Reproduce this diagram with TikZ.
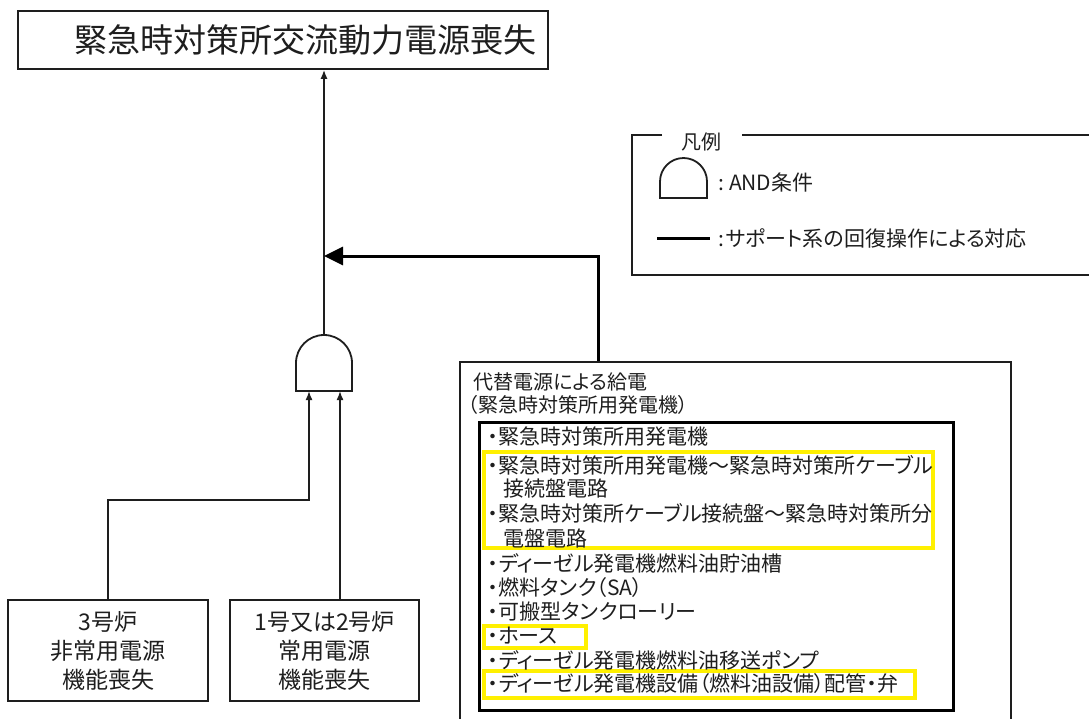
\documentclass[tikz,border=0pt]{standalone}
\usepackage{fontspec}
\setmainfont{Noto Sans CJK JP}[RawFeature={+palt}]
\usetikzlibrary{arrows.meta}
\definecolor{ink}{HTML}{1E1E1E}
\definecolor{hl}{RGB}{255,240,0}
\tikzset{
  thinbox/.style={draw=ink, line width=1.6pt, fill=white, inner sep=0pt, align=center, text=ink},
  arr/.style={draw=ink, line width=1.6pt, -{Latex[length=9pt,width=7pt]}},
  bigarr/.style={draw=black, line width=3pt, -{Triangle[length=19pt,width=18pt]}},
  gateshape/.style={draw=ink, line width=1.8pt, fill=white},
  itemtxt/.style={anchor=west, inner sep=0pt, text=ink, font=\fontsize{21}{24}\selectfont},
  hlbox/.style={draw=hl, line width=3.6pt},
  lgtxt/.style={anchor=west, inner sep=0pt, text=ink, font=\fontsize{21}{24}\selectfont},
}
\begin{document}
\begin{tikzpicture}[x=1pt,y=-1pt]
\useasboundingbox (0,0) rectangle (1089,718);
\fill[white] (0,0) rectangle (1089,718);
\clip (0,0) rectangle (1089,718);

% title
\node[thinbox, minimum width=530pt, minimum height=58pt] (title) at (283,40) {};
\node[inner sep=0pt, text=ink, font=\fontsize{33}{36}\selectfont] (titletxt) at (305,40) {緊急時対策所交流動力電源喪失};

% AND gate
\draw[gateshape] (296,391) -- (296,363) arc (180:360:28) -- (352,391) -- cycle;
\coordinate (gtop) at (324,335);
\coordinate (gin1) at (309,391);
\coordinate (gin2) at (340,391);
\draw[arr] (gtop) -- (title.south -| gtop);

% bottom boxes
\node[thinbox, minimum width=200pt, minimum height=101pt, font=\fontsize{23}{29}\selectfont] (b1) at (108,650.5) {3号炉\\非常用電源\\機能喪失};
\node[thinbox, minimum width=189pt, minimum height=101pt, font=\fontsize{23}{29}\selectfont] (b2) at (324.5,650.5) {1号又は2号炉\\常用電源\\機能喪失};
\coordinate (bend1) at (108,500);
\draw[arr] (b1.north) -- (bend1) -| (gin1);
\draw[arr] (b2.north -| gin2) -- (gin2);

% alternative power box
\node[thinbox, minimum width=551pt, minimum height=380pt, anchor=north west] (alt) at (459,361) {};
\node[anchor=west, inner sep=0pt, text=ink, font=\fontsize{20}{24}\selectfont] (alt1) at (473,382) {代替電源による給電};
\node[anchor=west, inner sep=0pt, text=ink, font=\fontsize{20}{24}\selectfont] (alt2) at (468,405) {（緊急時対策所用発電機）};
\coordinate (altc) at (598,361);
\coordinate (junc) at (324,256);
\draw[bigarr] (altc) |- (junc);

% inner box
\node[draw=black, line width=3.4pt, fill=white, minimum width=474pt, minimum height=288pt, anchor=north west, inner sep=0pt] (inner) at (478,421) {};

% highlight boxes
\draw[hlbox] (484,452) rectangle (933,548);
\draw[hlbox] (484,626) rectangle (586,648);
\draw[hlbox] (484,671) rectangle (915,698);

% items
\node[itemtxt] (i1) at (488,437) {・緊急時対策所用発電機};
\node[itemtxt] (i2) at (488,465) {・緊急時対策所用発電機～緊急時対策所ケーブル};
\node[itemtxt] (i2b) at (503,489) {接続盤電路};
\node[itemtxt] (i3) at (488,513) {・緊急時対策所ケーブル接続盤～緊急時対策所分};
\node[itemtxt] (i3b) at (503,538) {電盤電路};
\node[itemtxt] (i4) at (488,563) {・ディーゼル発電機燃料油貯油槽};
\node[itemtxt] (i5) at (488,588) {・燃料タンク（SA）};
\node[itemtxt] (i6) at (488,612) {・可搬型タンクローリー};
\node[itemtxt] (i7) at (488,636) {・ホース};
\node[itemtxt] (i8) at (488,660) {・ディーゼル発電機燃料油移送ポンプ};
\node[itemtxt] (i9) at (488,684) {・ディーゼル発電機設備（燃料油設備）配管・弁};

% legend
\draw[draw=ink, line width=1.6pt] (662,135) -- (632,135) -- (632,275) -- (1100,275);
\draw[draw=ink, line width=1.6pt] (742,135) -- (1100,135);
\node[inner sep=0pt, text=ink, font=\fontsize{20}{24}\selectfont] (lgtitle) at (701,142) {凡例};
\draw[gateshape] (660,198) -- (660,181.5) arc (180:360:23.5) -- (707,198) -- cycle;
\node[lgtxt] (lg1) at (718,182) {:\hspace{5pt}AND条件};
\coordinate (lgl1) at (657,238);
\coordinate (lgl2) at (710,238);
\draw[black, line width=3pt] (lgl1) -- (lgl2);
\node[lgtxt] (lg2) at (718,238) {:\hspace{2pt}サポート系の回復操作による対応};
\end{tikzpicture}
\end{document}
